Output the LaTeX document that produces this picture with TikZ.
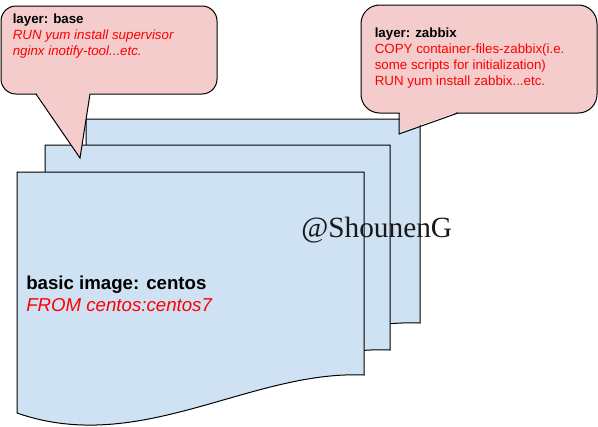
\documentclass[tikz,border=0pt]{standalone}
\usepackage{fontspec}
\setmainfont{Liberation Sans}
\newfontfamily\wmfont{Liberation Serif}
\definecolor{docfill}{HTML}{CFE2F3}
\definecolor{bubfill}{HTML}{F4CCCC}
\definecolor{redtxt}{HTML}{FF0000}
\newcommand\docpage[5]{% name, L, T, R, YR
  \path[docstyle] (#2,#3) coordinate (#1-tl) -- (#4,#3) -- (#4,#5)
    .. controls ({#2+0.672*(#4-#2)},{#5-5}) and ({#2+0.354*(#4-#2)},{#5+81}) ..
    (#2,{#5+38}) -- cycle;}
\begin{document}
\begin{tikzpicture}[x=0.75pt,y=-0.75pt,
  docstyle/.style={fill=docfill,draw=black,line width=0.75pt,line join=miter},
  bubstyle/.style={fill=bubfill,draw=black,line width=0.75pt},
  tailedge/.style={draw=black,line width=0.75pt,line join=miter},
  smalltxt/.style={anchor=base west,inner sep=0pt,font=\fontsize{10}{12}\selectfont},
  bigtxt/.style={anchor=base west,inner sep=0pt,font=\fontsize{14}{16}\selectfont}]
\useasboundingbox (0,0) rectangle (598,426);
% documents
\docpage{back}{86}{119}{420}{323}
\docpage{mid}{45}{145}{390}{350}
\docpage{front}{17}{172}{364}{375}
% bubble base
\path[bubstyle,rounded corners=11.25pt] (1,6) rectangle (217,94);
\fill[bubfill] (37,92) -- (37,94) -- (80,158) -- (90,94) -- (89,92) -- cycle;
\coordinate (t1a) at (36,94);
\coordinate (t1b) at (80,158);
\coordinate (t1c) at (90,94);
\draw[tailedge] (t1a) -- (t1b) -- (t1c);
% bubble zabbix
\path[bubstyle,rounded corners=14pt] (361,5) rectangle (597,113);
\fill[bubfill] (399.6,111) -- (399.6,132) -- (456,113) -- (456,111) -- cycle;
\coordinate (t2a) at (399,113);
\coordinate (t2b) at (399,134);
\coordinate (t2c) at (458,113);
\draw[tailedge] (t2a) -- (t2b) -- (t2c);
% texts
\node[smalltxt] (b1) at (12.5,23) {\bfseries layer: base};
\node[smalltxt,text=redtxt] (b2) at (12.5,39) {\itshape RUN yum install supervisor};
\node[smalltxt,text=redtxt] (b3) at (12.5,55) {\itshape nginx inotify-tool...etc.};
\node[smalltxt] (z1) at (374.5,37.5) {\bfseries layer: zabbix};
\node[smalltxt,text=redtxt] (z2) at (374.5,53.5) {COPY container-files-zabbix(i.e.};
\node[smalltxt,text=redtxt] (z3) at (374.5,69.5) {some scripts for initialization)};
\node[smalltxt,text=redtxt] (z4) at (374.5,85.5) {RUN yum install zabbix...etc.};
\node[bigtxt] (c1) at (26,289) {\bfseries basic image: centos};
\node[bigtxt,text=redtxt] (c2) at (26,311) {\itshape FROM centos:centos7};
\node[anchor=base west,inner sep=0pt,font=\wmfont\fontsize{22}{24}\selectfont,text=black!90] (wm) at (301,237) {@ShounenG};
\end{tikzpicture}
\end{document}
